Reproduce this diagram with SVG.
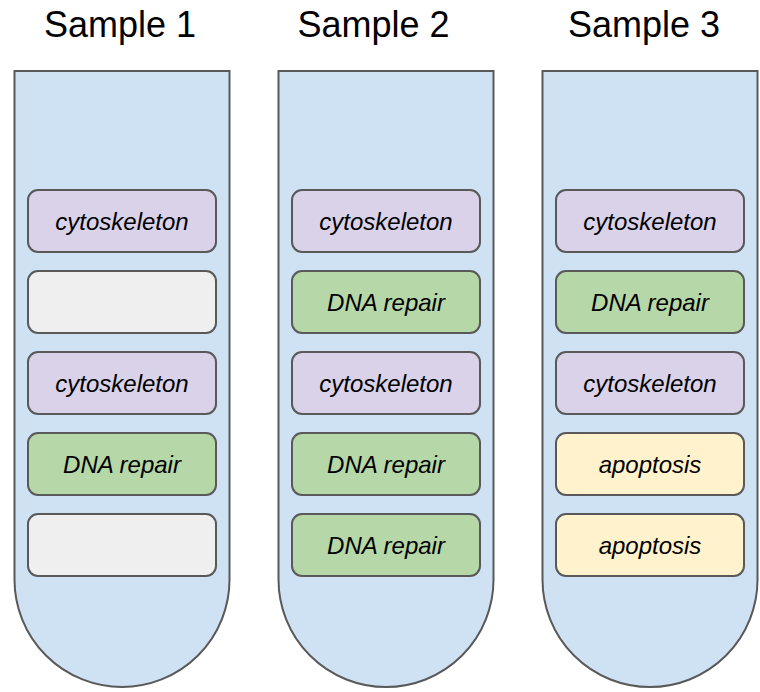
<svg xmlns="http://www.w3.org/2000/svg" width="760" height="692" viewBox="0 0 760 692">
<style>
.title{font-family:"Liberation Sans",Arial,sans-serif;font-size:36px;fill:#000;text-anchor:middle}
.tube{fill:#cfe2f3;stroke:#595959;stroke-width:2}
.box{stroke:#595959;stroke-width:2}
.purple{fill:#d9d2e9}
.green{fill:#b6d7a8}
.grey{fill:#efefef}
.yellow{fill:#fff2cc}
.lbl{font-family:"Liberation Sans",Arial,sans-serif;font-size:24px;font-style:italic;fill:#000;text-anchor:middle}
</style>
<rect width="760" height="692" fill="#fff"/>
<g id="connectors"/>
<g id="tube1">
<text class="title" x="120" y="37">Sample 1</text>
<path class="tube" d="M14.5 71 H229.5 V579.5 A107.5 107.5 0 0 1 14.5 579.5 Z"/>
</g>
<g id="tube2">
<text class="title" x="373.5" y="37">Sample 2</text>
<path class="tube" d="M278.5 71 H493.5 V579.5 A107.5 107.5 0 0 1 278.5 579.5 Z"/>
</g>
<g id="tube3">
<text class="title" x="644" y="37">Sample 3</text>
<path class="tube" d="M542.5 71 H757.5 V579.5 A107.5 107.5 0 0 1 542.5 579.5 Z"/>
</g>
<g id="t1b1"><rect class="box purple" x="28" y="190" width="188" height="62" rx="10"/><text class="lbl" x="122" y="229.5">cytoskeleton</text></g>
<g id="t1b2"><rect class="box grey" x="28" y="271" width="188" height="62" rx="10"/></g>
<g id="t1b3"><rect class="box purple" x="28" y="352" width="188" height="62" rx="10"/><text class="lbl" x="122" y="391.5">cytoskeleton</text></g>
<g id="t1b4"><rect class="box green" x="28" y="433" width="188" height="62" rx="10"/><text class="lbl" x="122" y="472.5">DNA repair</text></g>
<g id="t1b5"><rect class="box grey" x="28" y="514" width="188" height="62" rx="10"/></g>
<g id="t2b1"><rect class="box purple" x="292" y="190" width="188" height="62" rx="10"/><text class="lbl" x="386" y="229.5">cytoskeleton</text></g>
<g id="t2b2"><rect class="box green" x="292" y="271" width="188" height="62" rx="10"/><text class="lbl" x="386" y="310.5">DNA repair</text></g>
<g id="t2b3"><rect class="box purple" x="292" y="352" width="188" height="62" rx="10"/><text class="lbl" x="386" y="391.5">cytoskeleton</text></g>
<g id="t2b4"><rect class="box green" x="292" y="433" width="188" height="62" rx="10"/><text class="lbl" x="386" y="472.5">DNA repair</text></g>
<g id="t2b5"><rect class="box green" x="292" y="514" width="188" height="62" rx="10"/><text class="lbl" x="386" y="553.5">DNA repair</text></g>
<g id="t3b1"><rect class="box purple" x="556" y="190" width="188" height="62" rx="10"/><text class="lbl" x="650" y="229.5">cytoskeleton</text></g>
<g id="t3b2"><rect class="box green" x="556" y="271" width="188" height="62" rx="10"/><text class="lbl" x="650" y="310.5">DNA repair</text></g>
<g id="t3b3"><rect class="box purple" x="556" y="352" width="188" height="62" rx="10"/><text class="lbl" x="650" y="391.5">cytoskeleton</text></g>
<g id="t3b4"><rect class="box yellow" x="556" y="433" width="188" height="62" rx="10"/><text class="lbl" x="650" y="472.5">apoptosis</text></g>
<g id="t3b5"><rect class="box yellow" x="556" y="514" width="188" height="62" rx="10"/><text class="lbl" x="650" y="553.5">apoptosis</text></g>
</svg>
